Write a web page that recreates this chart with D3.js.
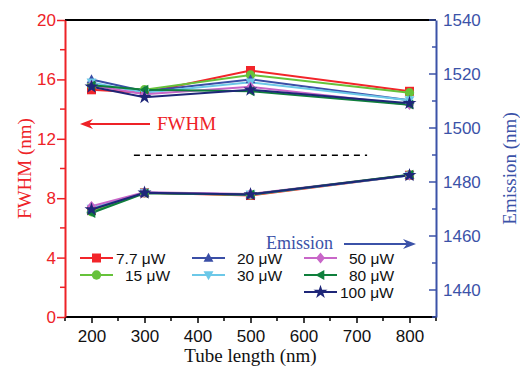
<!DOCTYPE html>
<html>
<head>
<meta charset="utf-8">
<script src="https://cdn.jsdelivr.net/npm/d3@7"></script>
<style>
  html, body { margin: 0; padding: 0; background: #fff; }
  svg { display: block; }
</style>
</head>
<body>
<svg id="chart" width="520" height="373"></svg>
<script>
// Tube lengths (nm)
const lengths = [200, 300, 500, 800];

// Excitation powers and their styles
const powers = ["7.7", "15", "20", "30", "50", "80", "100"];
const colors = ["#f2252a", "#66c23a", "#3a4ea6", "#6cc8e8", "#c866c8", "#0f7f3c", "#1e2678"];
const symbols = ["square", "circle", "triangleUp", "triangleDown", "diamond", "triangleLeft", "star"];

// FWHM (nm), one array per power
const fwhm77 = [15.3, 15.1, 16.6, 15.2];
const fwhm15 = [15.6, 15.3, 16.3, 15.1];
const fwhm20 = [16.0, 15.2, 16.0, 14.6];
const fwhm30 = [15.8, 15.1, 15.8, 14.6];
const fwhm50 = [15.6, 15.0, 15.5, 14.3];
const fwhm80 = [15.6, 15.3, 15.2, 14.3];
const fwhm100 = [15.5, 14.8, 15.3, 14.4];

// Emission peak (nm), one array per power
const em77 = [1469.5, 1476.0, 1475.0, 1482.5];
const em15 = [1469.0, 1476.0, 1475.2, 1482.6];
const em20 = [1470.0, 1476.0, 1475.4, 1482.5];
const em30 = [1470.2, 1476.1, 1475.4, 1482.4];
const em50 = [1471.0, 1476.2, 1475.6, 1482.6];
const em80 = [1468.5, 1475.8, 1475.4, 1482.7];
const em100 = [1469.8, 1476.0, 1475.4, 1482.5];

const fwhmSeries = [fwhm77, fwhm15, fwhm20, fwhm30, fwhm50, fwhm80, fwhm100];
const emSeries = [em77, em15, em20, em30, em50, em80, em100];

// Axis ticks
const xTicks = [200, 300, 400, 500, 600, 700, 800];
const leftTicks = [0, 4, 8, 12, 16, 20];
const rightTicks = [1440, 1460, 1480, 1500, 1520, 1540];

const RED = "#ee2227";
const BLUE = "#3b52a8";

const svg = d3.select("#chart");
const L = 65, R = 436, T = 20, B = 317;

const x = d3.scaleLinear().domain([150, 850]).range([L, R]);
const yL = d3.scaleLinear().domain([0, 20]).range([B, T]);
const yR = d3.scaleLinear().domain([1430, 1540]).range([B, T]);

// Marker shapes
function markerPath(name, s) {
  const h = s / 2;
  switch (name) {
    case "square": return `M${-h},${-h}H${h}V${h}H${-h}Z`;
    case "circle": return d3.symbol(d3.symbolCircle, s * s * 0.85)();
    case "triangleUp": return `M0,${-h * 1.15}L${h * 1.1},${h * 0.85}L${-h * 1.1},${h * 0.85}Z`;
    case "triangleDown": return `M0,${h * 1.15}L${h * 1.1},${-h * 0.85}L${-h * 1.1},${-h * 0.85}Z`;
    case "triangleLeft": return `M${-h * 1.15},0L${h * 0.85},${-h * 1.1}L${h * 0.85},${h * 1.1}Z`;
    case "diamond": return `M0,${-h * 1.2}L${h},0L0,${h * 1.2}L${-h},0Z`;
    case "star": return d3.symbol(d3.symbolStar, s * s * 0.75)();
  }
}

// Frame: top and bottom black, left red, right blue
svg.append("line").attr("x1", L).attr("x2", R).attr("y1", T).attr("y2", T)
  .attr("stroke", "#000").attr("stroke-width", 2);
svg.append("line").attr("x1", L).attr("x2", R).attr("y1", B).attr("y2", B)
  .attr("stroke", "#000").attr("stroke-width", 2);

// Bottom axis
const xAxis = svg.append("g").attr("transform", `translate(0,${B})`)
  .call(d3.axisBottom(x).tickValues(xTicks).tickSize(6).tickSizeOuter(0));
xAxis.select(".domain").remove();
xAxis.selectAll(".tick line").attr("stroke", "#000").attr("stroke-width", 1.5);
xAxis.selectAll(".tick text").attr("font-family", "Liberation Sans, Arial, sans-serif")
  .attr("font-size", 17).attr("fill", "#111").attr("dy", "0.95em");
svg.append("g").selectAll("line")
  .data(d3.range(150, 851, 100))
  .join("line")
  .attr("x1", d => x(d)).attr("x2", d => x(d)).attr("y1", B).attr("y2", B + 4)
  .attr("stroke", "#000").attr("stroke-width", 1.5);

// Left axis (FWHM)
const lAxis = svg.append("g").attr("transform", `translate(${L},0)`)
  .call(d3.axisLeft(yL).tickValues(leftTicks).tickSize(8).tickSizeOuter(0));
lAxis.select(".domain").attr("stroke", RED).attr("stroke-width", 2);
lAxis.selectAll(".tick line").attr("stroke", RED).attr("stroke-width", 1.5);
lAxis.selectAll(".tick text").attr("font-family", "Liberation Sans, Arial, sans-serif")
  .attr("font-size", 17).attr("fill", RED).attr("x", -9);
svg.append("g").selectAll("line").data([2, 6, 10, 14, 18]).join("line")
  .attr("x1", L - 5).attr("x2", L).attr("y1", d => yL(d)).attr("y2", d => yL(d))
  .attr("stroke", RED).attr("stroke-width", 1.5);

// Right axis (Emission)
const rAxis = svg.append("g").attr("transform", `translate(${R},0)`)
  .call(d3.axisRight(yR).tickValues(rightTicks).tickFormat(d3.format("d"))
    .tickSize(0).tickSizeOuter(0));
rAxis.select(".domain").attr("stroke", BLUE).attr("stroke-width", 2);
rAxis.selectAll(".tick text").attr("font-family", "Liberation Sans, Arial, sans-serif")
  .attr("font-size", 17).attr("fill", BLUE).attr("x", 7);
svg.append("g").selectAll("line").data(d3.range(1430, 1541, 10)).join("line")
  .attr("x1", d => (d % 20 === 0 ? R - 7 : R - 4)).attr("x2", R)
  .attr("y1", d => yR(d)).attr("y2", d => yR(d))
  .attr("stroke", BLUE).attr("stroke-width", 1.5);

// Axis titles
svg.append("text").attr("x", (L + R) / 2).attr("y", 362).attr("text-anchor", "middle")
  .attr("font-family", "Liberation Serif, Times New Roman, serif").attr("font-size", 19)
  .attr("fill", "#111").text("Tube length (nm)");
svg.append("text").attr("transform", `translate(31,${(T + B) / 2}) rotate(-90)`)
  .attr("text-anchor", "middle")
  .attr("font-family", "Liberation Serif, Times New Roman, serif").attr("font-size", 19)
  .attr("fill", RED).text("FWHM (nm)");
svg.append("text").attr("transform", `translate(516,${(T + B) / 2}) rotate(-90)`)
  .attr("text-anchor", "middle")
  .attr("font-family", "Liberation Serif, Times New Roman, serif").attr("font-size", 19)
  .attr("fill", BLUE).text("Emission (nm)");

// Data lines and markers
const plot = svg.append("g");
function drawGroup(seriesList, yScale) {
  seriesList.forEach((vals, i) => {
    const pts = lengths.map((l, j) => [x(l), yScale(vals[j])]);
    plot.append("path").attr("d", d3.line()(pts)).attr("fill", "none")
      .attr("stroke", colors[i]).attr("stroke-width", 2);
  });
  seriesList.forEach((vals, i) => {
    lengths.forEach((l, j) => {
      plot.append("path").attr("d", markerPath(symbols[i], 9))
        .attr("transform", `translate(${x(l)},${yScale(vals[j])})`)
        .attr("fill", colors[i]);
    });
  });
}
drawGroup(fwhmSeries, yL);
drawGroup(emSeries, yR);

// Dashed separator
svg.append("line").attr("x1", x(280)).attr("x2", x(720)).attr("y1", yL(10.9)).attr("y2", yL(10.9))
  .attr("stroke", "#000").attr("stroke-width", 1.5).attr("stroke-dasharray", "6,5");

// Arrow annotations
function arrow(x1, x2, y, color, dir) {
  const tip = dir < 0 ? x1 : x2;
  const tail = dir < 0 ? x2 : x1;
  svg.append("line").attr("x1", tail).attr("x2", tip - dir * 8).attr("y1", y).attr("y2", y)
    .attr("stroke", color).attr("stroke-width", 2);
  svg.append("path")
    .attr("d", `M${tip},${y}L${tip - dir * 13},${y - 5}L${tip - dir * 9},${y}L${tip - dir * 13},${y + 5}Z`)
    .attr("fill", color);
}
arrow(80, 150, 124, RED, -1);
svg.append("text").attr("x", 157).attr("y", 130)
  .attr("font-family", "Liberation Serif, Times New Roman, serif").attr("font-size", 19)
  .attr("fill", RED).text("FWHM");
arrow(344, 416, 244, BLUE, 1);
svg.append("text").attr("x", 266).attr("y", 249)
  .attr("font-family", "Liberation Serif, Times New Roman, serif").attr("font-size", 18)
  .attr("fill", BLUE).text("Emission");

// Legend: three columns
const legendPos = [
  [0, 0], [0, 1], [1, 0], [1, 1], [2, 0], [2, 1], [2, 2]
];
const colX = [80, 192, 304];
const rowY = [258, 275, 292];
const leg = svg.append("g");
powers.forEach((p, i) => {
  const [c, r] = legendPos[i];
  const lx = colX[c], ly = rowY[r];
  leg.append("line").attr("x1", lx).attr("x2", lx + 33).attr("y1", ly).attr("y2", ly)
    .attr("stroke", colors[i]).attr("stroke-width", 2);
  leg.append("path").attr("d", markerPath(symbols[i], 9))
    .attr("transform", `translate(${lx + 16.5},${ly})`).attr("fill", colors[i]);
  leg.append("text").attr("x", lx + (p.length > 2 ? 36 : 45)).attr("y", ly + 5.5)
    .attr("font-family", "Liberation Sans, Arial, sans-serif").attr("font-size", 15.5)
    .attr("fill", "#111").text(`${p} \u03bcW`);
});
</script>
</body>
</html>
